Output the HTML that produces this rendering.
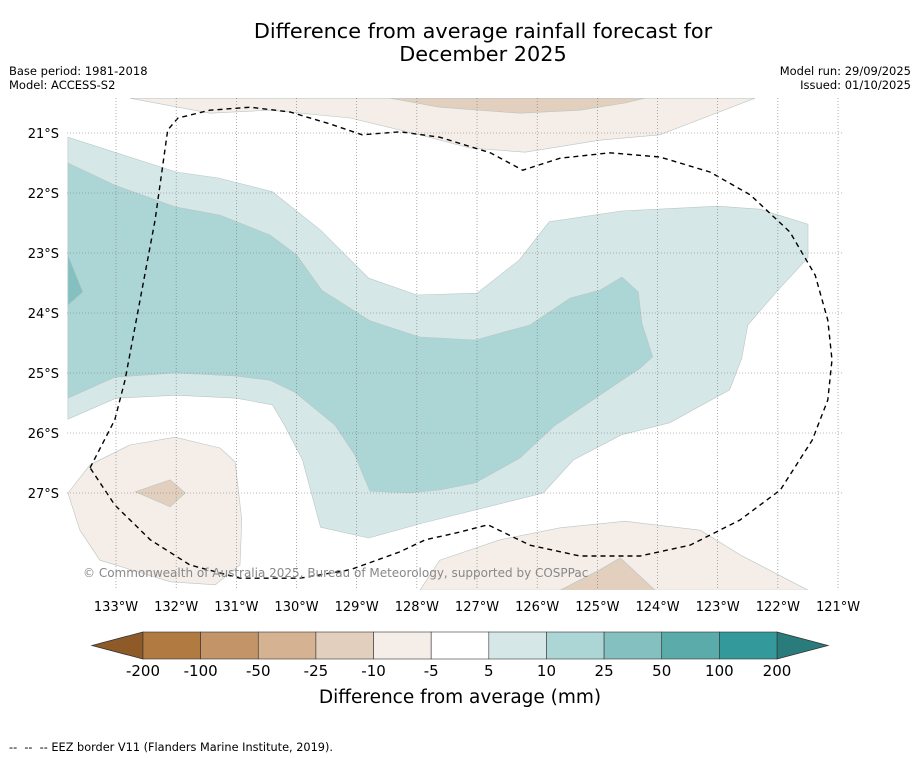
<!DOCTYPE html>
<html><head><meta charset="utf-8"><style>
body{margin:0;background:#fff;font-family:"Liberation Sans","DejaVu Sans",sans-serif}
svg{display:block}
</style></head><body>
<svg id="chart" width="919" height="758" viewBox="0 0 919 758" font-family="DejaVu Sans, Liberation Sans, sans-serif">
<text x="483" y="38" text-anchor="middle" font-size="20.8" fill="#000">Difference from average rainfall forecast for</text>
<text x="483" y="61" text-anchor="middle" font-size="20.8" fill="#000">December 2025</text>
<text x="9" y="75" font-size="11.5">Base period: 1981-2018</text>
<text x="9" y="89" font-size="11.5">Model: ACCESS-S2</text>
<text x="911" y="75" font-size="11.5" text-anchor="end">Model run: 29/09/2025</text>
<text x="911" y="89" font-size="11.5" text-anchor="end">Issued: 01/10/2025</text>
<defs><clipPath id="mapclip"><rect x="67" y="98" width="776" height="492"/></clipPath></defs>
<g id="map" clip-path="url(#mapclip)"></g>
<g id="grid"></g>
<g id="labels"></g>
<text x="83" y="577" font-size="12" fill="#888">© Commonwealth of Australia 2025, Bureau of Meteorology, supported by COSPPac</text>
<g id="cbar"></g>
<text x="460" y="703" font-size="18.5" text-anchor="middle">Difference from average (mm)</text>
<text x="9" y="751" font-size="11.3" xml:space="preserve">--  --  -- EEZ border V11 (Flanders Marine Institute, 2019).</text>
</svg>
<script>
const lonTicks=[133,132,131,130,129,128,127,126,125,124,123,122,121];
const latTicks=[21,22,23,24,25,26,27];
const cbarLevels=["-200","-100","-50","-25","-10","-5","5","10","25","50","100","200"];
const cbarColors=["#b07a40","#c29467","#d4b292","#e3cfbd","#f4ede8","#ffffff","#d5e8e7","#acd5d5","#84c0bf","#5aabaa","#33999a"];
// contour polygons [lonW, latS]
const teal5=[[133.8,21.07],[132.0,21.65],[131.3,21.75],[130.4,21.98],[129.6,22.62],[128.8,23.42],[128.0,23.7],[127.0,23.67],[126.3,23.12],[125.8,22.48],[124.6,22.3],[123.0,22.22],[122.3,22.27],[121.5,22.52],[121.5,23.08],[122.0,23.62],[122.5,24.2],[122.6,24.75],[122.8,25.28],[123.8,25.83],[124.6,26.03],[125.4,26.45],[125.9,27.0],[127.9,27.5],[128.8,27.75],[129.6,27.57],[129.9,26.45],[130.2,25.87],[130.4,25.53],[131.0,25.42],[132.0,25.37],[133.0,25.42],[133.8,25.77]];
const teal10=[[133.8,21.5],[133.02,21.87],[132.02,22.23],[131.27,22.37],[130.44,22.7],[130.0,23.03],[129.58,23.62],[128.78,24.13],[127.95,24.4],[127.03,24.45],[126.12,24.2],[125.45,23.75],[124.96,23.62],[124.59,23.4],[124.32,23.65],[124.26,24.17],[124.08,24.73],[124.29,24.92],[124.59,25.12],[124.96,25.37],[125.7,25.87],[126.29,26.42],[127.03,26.83],[127.62,26.95],[128.11,27.0],[128.78,26.97],[129.03,26.37],[129.36,25.87],[130.03,25.32],[130.44,25.12],[131.02,25.05],[132.02,25.0],[133.02,25.07],[133.8,25.42]];
const teal25=[[133.8,23.03],[133.55,23.65],[133.8,23.87]];
const brown5Top=[[132.77,20.42],[131.44,20.67],[130.44,20.62],[129.11,20.75],[127.95,21.03],[127.12,21.25],[126.2,21.32],[124.96,21.12],[123.96,21.03],[122.38,20.42]];
const brown10Top=[[128.45,20.42],[127.62,20.57],[126.29,20.67],[125.29,20.62],[124.54,20.5],[124.21,20.42]];
const brown5Left=[[133.8,27.0],[133.43,26.53],[132.77,26.2],[132.02,26.07],[131.27,26.25],[131.02,26.48],[130.91,27.45],[130.94,28.2],[131.35,28.53],[132.1,28.48],[133.27,28.12],[133.6,27.62]];
const brown10Left=[[132.68,26.98],[132.1,26.78],[131.85,27.0],[132.1,27.23]];
const brown5Right=[[127.95,28.62],[127.62,28.12],[126.62,27.78],[125.62,27.58],[124.54,27.47],[123.29,27.62],[122.63,28.03],[121.5,28.62]];
const brown10Right=[[125.62,28.62],[124.96,28.28],[124.62,28.08],[124.04,28.62]];
const eez=[[133.43,26.58],[133.02,25.78],[132.85,25.12],[132.6,23.78],[132.35,22.45],[132.14,20.95],[131.97,20.75],[131.44,20.62],[130.77,20.57],[130.11,20.65],[129.44,20.85],[128.91,21.03],[128.28,20.98],[127.62,21.07],[126.78,21.33],[126.24,21.62],[125.62,21.42],[124.79,21.33],[123.96,21.4],[123.13,21.65],[122.46,22.03],[121.8,22.65],[121.38,23.37],[121.17,24.12],[121.1,24.78],[121.17,25.45],[121.43,26.12],[121.96,26.95],[122.63,27.45],[123.46,27.87],[124.29,28.05],[125.29,28.05],[126.12,27.87],[126.82,27.53],[127.28,27.65],[127.86,27.78],[128.28,27.98],[129.11,28.28],[129.94,28.42],[130.94,28.42],[131.77,28.2],[132.43,27.78],[133.02,27.2],[133.43,26.58]];

const NS="http://www.w3.org/2000/svg";
const X=lon=>116+(133-lon)*60.17;
const Y=lat=>133+(lat-21)*60;
function mk(tag,attrs,parent){const e=document.createElementNS(NS,tag);for(const k in attrs)e.setAttribute(k,attrs[k]);parent.appendChild(e);return e;}
const pts=a=>a.map(p=>X(p[0]).toFixed(1)+","+Y(p[1]).toFixed(1)).join(" ");
const map=document.getElementById("map");
const layers=[[brown5Top,"#f4ede8","contour-dry-top"],[brown10Top,"#e3cfbd","contour-drier-top"],[brown5Left,"#f4ede8","contour-dry-left"],[brown10Left,"#e3cfbd","contour-drier-left"],[brown5Right,"#f4ede8","contour-dry-right"],[brown10Right,"#e3cfbd","contour-drier-right"],[teal5,"#d5e8e7","contour-wet-5"],[teal10,"#acd5d5","contour-wet-10"],[teal25,"#84c0bf","contour-wet-25"]];
layers.forEach(l=>{
 const p=mk("polygon",{points:pts(l[0]),fill:l[1],stroke:"#b9c6c6","stroke-width":"0.6"},map);
 
 
});
const grid=document.getElementById("grid");
lonTicks.forEach(l=>{
 const ln=mk("line",{x1:X(l),x2:X(l),y1:98,y2:590,stroke:"#777","stroke-width":"0.6","stroke-dasharray":"1,2"},grid);
 
 
});
latTicks.forEach(l=>{
 const ln=mk("line",{x1:67,x2:843,y1:Y(l),y2:Y(l),stroke:"#777","stroke-width":"0.6","stroke-dasharray":"1,2"},grid);
 
 
});
const e=mk("polyline",{points:pts(eez),fill:"none",stroke:"#000","stroke-width":"1.4","stroke-dasharray":"5,4"},map);


const lab=document.getElementById("labels");
lonTicks.forEach(l=>{
 const t=mk("text",{x:X(l),y:611,"font-size":"13","text-anchor":"middle"},lab);
 t.textContent=l+"°W";
 
 
});
latTicks.forEach(l=>{
 const t=mk("text",{x:59,y:Y(l)+5,"font-size":"13","text-anchor":"end"},lab);
 t.textContent=l+"°S";
 
 
});
const cb=document.getElementById("cbar");
const x0=143,x1=777,y0=632,y1=659,w=(x1-x0)/cbarColors.length;
const lt=mk("polygon",{points:`92,${(y0+y1)/2} ${x0},${y0} ${x0},${y1}`,fill:"#8e5a28",stroke:"#333","stroke-width":"0.8"},cb);


const rt=mk("polygon",{points:`828,${(y0+y1)/2} ${x1},${y0} ${x1},${y1}`,fill:"#2a7c7c",stroke:"#333","stroke-width":"0.8"},cb);


cbarColors.forEach((c,i)=>{
 const r=mk("rect",{x:x0+i*w,y:y0,width:w,height:y1-y0,fill:c,stroke:"#333","stroke-width":"0.6"},cb);
 
 
});
cbarLevels.forEach((s,i)=>{
 const t=mk("text",{x:x0+i*w,y:676,"font-size":"15","text-anchor":"middle"},cb);
 t.textContent=s;
 
 
});
</script>
</body></html>
